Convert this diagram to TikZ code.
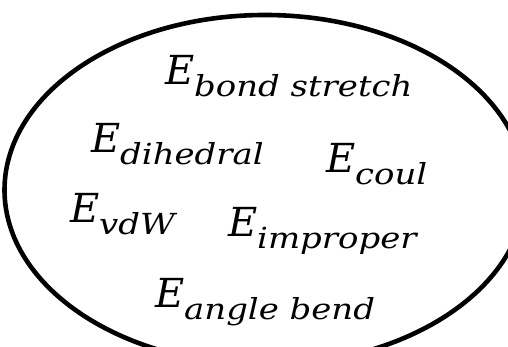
\documentclass[tikz,border=0pt]{standalone}
\usepackage{fontspec}
\setmainfont{DejaVu Serif}
\newfontfamily\termfont{DejaVu Serif}
\newfontfamily\subfont{DejaVu Serif}[FakeStretch=1.17]
\newcommand{\eterm}[1]{{\termfont\itshape\fontsize{40}{40}\selectfont E\raisebox{-12pt}{\subfont\itshape\fontsize{29}{29}\selectfont #1}}}
\begin{document}
\begin{tikzpicture}[x=1pt,y=1pt,
  term/.style={anchor=base west,inner sep=0pt,outer sep=0pt},
  border/.style={draw=black,line width=4.6pt}]
\useasboundingbox (0,0) rectangle (508,347);
\begin{scope}
\clip (0,0) rectangle (508,347);
\draw[border] (265,157) ellipse [x radius=260.5, y radius=175];
\end{scope}
\node[term] (bond) at (165,262) {\eterm{bond stretch}};
\node[term] (dih) at (91,194) {\eterm{dihedral}};
\node[term] (coul) at (326,174) {\eterm{coul}};
\node[term] (vdw) at (70,124) {\eterm{vdW}};
\node[term] (impr) at (228,110) {\eterm{improper}};
\node[term] (angle) at (155,39) {\eterm{angle bend}};
\end{tikzpicture}
\end{document}
